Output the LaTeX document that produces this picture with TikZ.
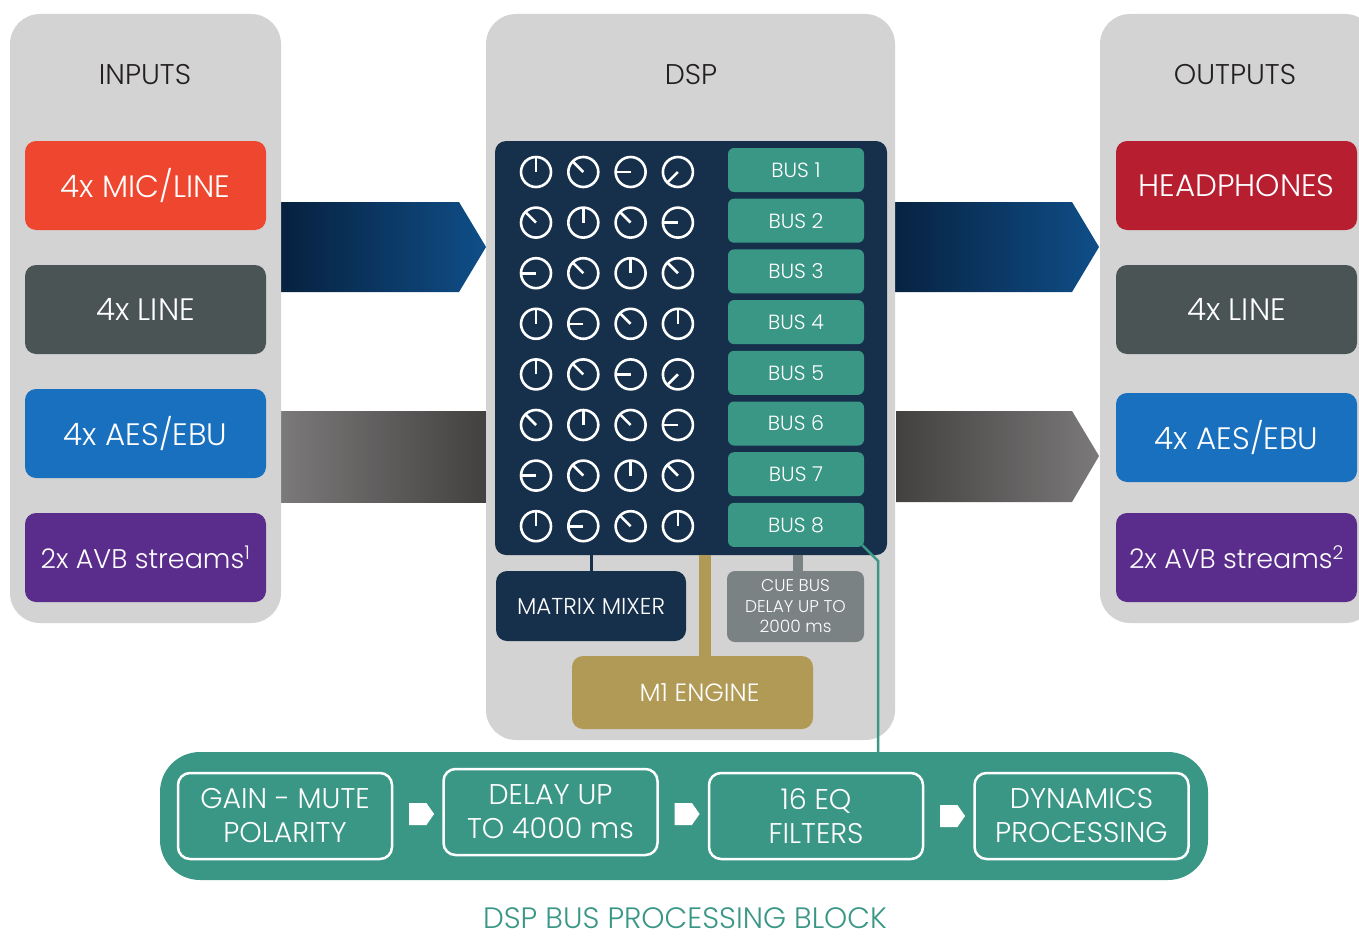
\documentclass[tikz,border=0pt]{standalone}
\usepackage{fontspec}
\setmainfont{Poppins Light}
\usepackage{tikz}
\usetikzlibrary{positioning, calc, shapes.symbols}

\definecolor{panelgray}{HTML}{D3D3D3}
\definecolor{titletext}{HTML}{231F20}
\definecolor{micred}{HTML}{EF4630}
\definecolor{linegray}{HTML}{4A5455}
\definecolor{aesblue}{HTML}{1870BE}
\definecolor{avbpurple}{HTML}{5A2D8C}
\definecolor{hpred}{HTML}{B71F31}
\definecolor{navy}{HTML}{16304B}
\definecolor{busteal}{HTML}{3A9786}
\definecolor{cuegray}{HTML}{7B8283}
\definecolor{engold}{HTML}{B09A55}
\definecolor{arrowdark}{HTML}{07213F}
\definecolor{arrowblue}{HTML}{0F4E88}
\definecolor{arrowgray}{HTML}{7B7979}
\definecolor{arrowgraydark}{HTML}{434140}

\begin{document}
\begin{tikzpicture}[x=1pt, y=-1pt,
    panel/.style={fill=panelgray, rounded corners=30pt, inner sep=0pt},
    paneltitle/.style={text=titletext, font=\fontsize{28.5}{30}\selectfont},
    srcbox/.style={rounded corners=11pt, minimum width=241pt, minimum height=89pt,
        inner sep=0pt, text=white, font=\fontsize{31}{34}\selectfont},
    busbox/.style={fill=busteal, rounded corners=6pt, minimum width=136pt, minimum height=44pt,
        inner sep=0pt, text=white, font=\fontsize{20.5}{22}\selectfont},
    knob/.style={draw=white, line width=2.6pt},
    dspbox/.style={rounded corners=11pt, inner sep=0pt, text=white},
    procbox/.style={draw=white, line width=2.5pt, rounded corners=12pt, minimum width=214pt,
        minimum height=86pt, inner sep=0pt, text=white, align=center,
        font=\fontsize{28.5}{34}\selectfont},
    proctip/.style={signal, signal to=east, signal pointer angle=110, fill=white,
        minimum width=25pt, minimum height=22pt, inner sep=0pt}
]
    \useasboundingbox (0,0) rectangle (1359,939);
    \clip (0,0) rectangle (1359,939);

    % Wide arrows into and out of the DSP
    \shade[left color=arrowdark, right color=arrowblue]
        (281,202) -- (459,202) -- (486,247) -- (459,292) -- (281,292) -- cycle;
    \shade[left color=arrowgray, middle color=arrowgray, right color=arrowgraydark]
        (281,411) rectangle (486,502);
    \shade[left color=arrowdark, right color=arrowblue]
        (887,202) -- (1072,202) -- (1099,247) -- (1072,292) -- (887,292) -- cycle;
    \shade[left color=arrowgraydark, middle color=arrowgray, right color=arrowgray]
        (896,411) -- (1072,411) -- (1099,456) -- (1072,502) -- (896,502) -- cycle;

    % Panels
    \node[panel, minimum width=271pt, minimum height=609pt] (inputs) at (145.5,318.5) {};
    \node[panel, minimum width=409pt, minimum height=726pt] (dsp) at (690.5,377) {};
    \node[panel, minimum width=275pt, minimum height=609pt] (outputs) at (1237.5,318.5) {};
    \node[paneltitle] (inputstitle) at (145,75) {INPUTS};
    \node[paneltitle] (dsptitle) at (691,75) {DSP};
    \node[paneltitle] (outputstitle) at (1235,75) {OUTPUTS};

    % Inputs
    \node[srcbox, fill=micred] (inmic) at (145.5,185.5) {4x MIC/LINE};
    \node[srcbox, fill=linegray] (inline) at (145.5,309.5) {4x LINE};
    \node[srcbox, fill=aesblue] (inaes) at (145.5,433.5) {4x AES/EBU};
    \node[srcbox, fill=avbpurple, font=\fontsize{27}{30}\selectfont] (inavb) at (145.5,557.5)
        {2x AVB streams\textsuperscript{1}};

    % Outputs
    \node[srcbox, fill=hpred] (outhp) at (1236.5,185.5) {HEADPHONES};
    \node[srcbox, fill=linegray] (outline) at (1236.5,309.5) {4x LINE};
    \node[srcbox, fill=aesblue] (outaes) at (1236.5,437.5) {4x AES/EBU};
    \node[srcbox, fill=avbpurple, font=\fontsize{27}{30}\selectfont] (outavb) at (1236.5,557.5)
        {2x AVB streams\textsuperscript{2}};

    % Mixer grid with knobs and buses
    \node[dspbox, fill=navy, minimum width=392pt, minimum height=414pt] (grid) at (691,348) {};
    \foreach \angs [count=\r] in {{90,135,180,225},{135,90,135,180},{180,135,90,135},{90,180,135,90},
                                  {90,135,180,225},{135,90,135,180},{180,135,90,135},{90,180,135,90}} {
        \foreach \a [count=\c] in \angs {
            \draw[knob] ({536+(\c-1)*47.3},{172+(\r-1)*50.6}) circle (15pt);
            \draw[knob] ({536+(\c-1)*47.3},{172+(\r-1)*50.6}) -- ++(\a:14pt);
        }
    }
    \foreach \i in {1,...,8}
        \node[busbox] (bus\i) at (796,{170+(\i-1)*50.7}) {BUS \i};

    % Blocks below the grid
    \node[dspbox, fill=navy, minimum width=190pt, minimum height=70pt,
        font=\fontsize{23}{25}\selectfont] (matrix) at (591,606) {MATRIX MIXER};
    \node[dspbox, fill=cuegray, rounded corners=8pt, minimum width=137pt, minimum height=71pt,
        align=center, font=\fontsize{17}{20.5}\selectfont] (cue) at (795.5,606.5) {CUE BUS\\DELAY UP TO\\2000 ms};
    \node[dspbox, fill=engold, minimum width=241pt, minimum height=73pt,
        font=\fontsize{25}{27}\selectfont] (engine) at (692.5,692.5) {\hspace{14pt}M1 ENGINE};
    \draw[navy, line width=3pt] (matrix.north) -- (matrix.north |- grid.south);
    \draw[cuegray, line width=10pt] ([xshift=2pt]cue.north) -- ([xshift=2pt]cue.north |- grid.south);
    \draw[engold, line width=12pt] ([xshift=12pt]engine.north) -- ([xshift=12pt]engine.north |- grid.south);

    % DSP bus processing block
    \node[fill=busteal, rounded corners=40pt, minimum width=1048pt, minimum height=128pt,
        inner sep=0pt] (procblock) at (684,816) {};
    \draw[busteal, line width=2.5pt] ([xshift=-2pt,yshift=2pt]bus8.south east) -- ++(16,16) coordinate (bend)
        -- (bend |- procblock.north);
    \node[procbox] (gain) at (285,816) {GAIN - MUTE\\POLARITY};
    \node[procbox] (delay) at (550.5,812) {DELAY UP\\TO 4000 ms};
    \node[procbox] (eq) at (816,816) {16 EQ\\FILTERS};
    \node[procbox] (dyn) at (1081.5,816) {DYNAMICS\\PROCESSING};
    \node[proctip] (tip1) at ($(gain.east)!.5!(delay.west)$) {};
    \node[proctip] (tip2) at ($(delay.east)!.5!(eq.west)$) {};
    \node[proctip] (tip3) at ($(eq.east)!.5!(dyn.west)$) {};
    \node[text=busteal, inner sep=0pt, font=\fontsize{29.5}{32}\selectfont] (caption) at (685,918)
        {DSP BUS PROCESSING BLOCK};
\end{tikzpicture}
\end{document}
